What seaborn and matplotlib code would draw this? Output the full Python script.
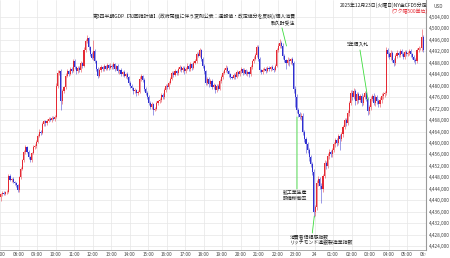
import numpy as np
import pandas as pd
import matplotlib
matplotlib.use("Agg")
import matplotlib.pyplot as plt
import seaborn as sns
from matplotlib.transforms import Bbox, TransformedBbox
from matplotlib.ticker import FuncFormatter

# ---------------- data (prices in thousands) ----------------
hour_labels = ["07:00", "08:00", "09:00", "10:00", "11:00", "12:00", "13:00",
               "14:00", "15:00", "16:00", "17:00", "18:00", "19:00", "20:00",
               "21:00", "22:00", "23:00", "24", "01:00", "02:00", "03:00",
               "04:00", "05:00", "06:00"]

first_open_k = 4441.0

close_k = [
    4442.0, 4442.6, 4442.3, 4442.8, 4443.0, 4448.5, 4447.2, 4447.5, 4446.3, 4446.0, 4445.2, 4443.5,
    4448.0, 4451.0, 4454.0, 4457.0, 4458.5, 4457.0, 4455.0, 4454.0, 4456.5, 4458.5, 4459.0, 4460.5,
    4462.5, 4464.0, 4463.5, 4466.5, 4467.5, 4466.8, 4467.8, 4468.3, 4467.9, 4468.8, 4468.4, 4469.2,
    4480.0, 4484.5, 4485.0, 4474.5, 4478.0, 4479.5, 4483.5, 4485.0, 4484.2, 4486.0, 4485.3, 4488.5,
    4486.5, 4485.0, 4486.2, 4485.5, 4487.8, 4487.0, 4492.5, 4495.5, 4496.5, 4493.5, 4491.0, 4489.8,
    4492.0, 4488.5, 4486.0, 4483.5, 4485.5, 4486.5, 4485.8, 4486.8, 4486.0, 4487.2, 4486.3, 4487.0,
    4486.5, 4487.5, 4486.0, 4486.8, 4485.0, 4485.5, 4484.0, 4484.8, 4483.5, 4484.2, 4483.0, 4481.0,
    4480.0, 4479.2, 4478.0, 4478.5, 4477.3, 4477.8, 4482.5, 4483.3, 4482.0, 4479.0, 4477.5, 4476.0,
    4474.0, 4472.5, 4473.5, 4471.5, 4472.0, 4473.8, 4474.5, 4475.0, 4476.8, 4476.0, 4478.5, 4480.0,
    4479.5, 4481.0, 4482.5, 4484.5, 4483.8, 4485.0, 4484.3, 4485.8, 4486.5, 4485.5, 4486.3, 4485.0,
    4486.0, 4487.0, 4485.8, 4487.5, 4486.3, 4488.0, 4488.8, 4491.0, 4490.5, 4492.3, 4489.5, 4487.0,
    4485.0, 4481.0, 4482.5, 4480.5, 4481.8, 4479.5, 4480.2, 4478.5, 4480.0, 4479.0, 4481.5, 4483.0,
    4484.5, 4485.5, 4486.3, 4485.0, 4484.0, 4483.0, 4482.8, 4483.8, 4483.2, 4484.8, 4484.0, 4485.0,
    4485.8, 4484.5, 4485.5, 4484.2, 4484.8, 4484.0, 4486.5, 4488.5, 4489.5, 4490.8, 4493.5, 4489.5,
    4485.5, 4484.8, 4485.5, 4486.0, 4485.3, 4486.3, 4485.8, 4486.5, 4486.0, 4485.5, 4487.0, 4492.5,
    4494.0, 4495.0, 4494.0, 4490.5, 4489.0, 4488.0, 4489.0, 4488.5, 4489.2, 4488.0, 4479.0, 4476.0,
    4471.5, 4470.0, 4469.0, 4469.5, 4464.0, 4461.5, 4459.5, 4457.5, 4455.0, 4452.5, 4450.0, 4436.0,
    4437.5, 4446.0, 4447.5, 4445.0, 4444.0, 4448.5, 4453.0, 4452.0, 4455.5, 4457.0, 4456.0, 4457.5,
    4459.5, 4461.0, 4460.0, 4462.5, 4461.5, 4463.0, 4465.5, 4468.0, 4467.0, 4470.5, 4474.0, 4477.5,
    4476.0, 4478.0, 4474.5, 4477.0, 4475.0, 4476.5, 4474.0, 4476.0, 4477.5, 4475.5, 4471.0, 4472.5,
    4475.5, 4476.5, 4474.0, 4476.0, 4474.5, 4473.5, 4475.0, 4476.5, 4477.0, 4477.5, 4492.5, 4491.0,
    4490.0, 4491.5, 4489.0, 4488.0, 4490.5, 4491.5, 4490.8, 4492.0, 4491.0, 4490.2, 4491.8, 4491.0,
    4491.5, 4492.0, 4491.0, 4490.0, 4489.0, 4488.5, 4492.5, 4493.0, 4493.0, 4497.0, 4492.5,
]

wick_up_k = [
    0.6, 0.5, 0.7, 0.4, 0.6, 0.5, 0.8, 0.4, 0.6, 0.5, 0.4, 0.6,
    0.4, 0.6, 0.5, 0.7, 0.8, 0.5, 0.6, 0.4, 0.5, 0.7, 0.6, 0.5,
    0.6, 0.8, 0.5, 0.7, 0.6, 0.5, 0.4, 0.6, 0.7, 0.5, 0.6, 0.4,
    0.8, 1.0, 0.6, 0.8, 0.7, 0.5, 0.9, 0.8, 0.6, 0.7, 0.5, 0.9,
    0.7, 0.5, 0.6, 0.8, 0.7, 0.5, 0.9, 0.8, 1.2, 0.6, 0.5, 0.7,
    4.0, 0.8, 0.6, 0.5, 0.7, 0.6, 0.5, 0.8, 0.6, 0.7, 0.5, 0.8,
    0.6, 0.9, 0.5, 0.6, 0.7, 0.5, 0.6, 0.5, 0.7, 0.4, 0.6, 0.5,
    0.5, 0.6, 0.4, 0.7, 0.5, 0.6, 0.9, 0.7, 0.5, 0.6, 0.4, 0.5,
    0.6, 0.5, 0.7, 0.4, 0.6, 0.8, 0.5, 0.6, 0.7, 0.5, 0.8, 0.6,
    0.7, 0.5, 0.6, 0.8, 0.5, 0.7, 0.6, 0.8, 0.9, 0.5, 0.7, 0.6,
    0.6, 0.8, 0.5, 0.7, 0.6, 0.8, 0.6, 0.9, 0.7, 0.8, 0.6, 0.5,
    0.5, 0.6, 0.7, 0.5, 0.6, 0.4, 0.7, 0.5, 0.6, 0.5, 0.7, 0.6,
    0.7, 0.6, 0.8, 0.5, 0.6, 0.5, 0.4, 0.6, 0.5, 0.7, 0.5, 0.6,
    0.7, 0.5, 0.6, 0.5, 0.6, 0.4, 0.7, 0.6, 0.8, 0.7, 0.6, 0.8,
    0.6, 0.5, 0.7, 0.6, 0.5, 0.7, 0.6, 0.5, 0.6, 0.5, 0.7, 0.8,
    0.9, 1.2, 0.7, 0.8, 0.6, 0.5, 0.9, 0.7, 0.6, 0.8, 0.7, 0.9,
    1.0, 0.8, 0.7, 0.9, 0.8, 0.6, 0.7, 0.8, 0.6, 0.9, 0.7, 0.8,
    0.9, 1.0, 0.8, 0.7, 0.9, 0.8, 1.0, 0.7, 0.9, 0.8, 0.6, 0.9,
    0.8, 0.7, 0.9, 0.6, 0.8, 0.7, 0.9, 0.8, 0.7, 0.9, 0.8, 1.0,
    0.9, 1.1, 0.7, 0.8, 0.9, 0.7, 0.8, 0.9, 0.7, 0.8, 0.6, 0.9,
    0.8, 0.7, 0.9, 0.6, 0.8, 0.7, 0.9, 0.8, 0.7, 0.6, 1.0, 0.8,
    0.7, 0.9, 0.6, 0.8, 0.7, 0.9, 0.6, 0.8, 0.7, 0.6, 0.8, 0.7,
    0.6, 0.8, 0.7, 0.5, 0.6, 0.7, 0.8, 0.9, 0.6, 2.8, 0.7,
]

wick_dn_k = [
    1.4, 0.5, 0.6, 0.4, 0.5, 0.6, 0.5, 0.7, 0.4, 0.6, 0.5, 0.7,
    0.5, 0.6, 0.4, 0.5, 0.7, 0.6, 0.5, 0.8, 0.6, 0.4, 0.5, 0.6,
    0.5, 0.4, 0.7, 0.5, 0.6, 0.8, 0.5, 0.6, 0.4, 0.7, 0.5, 0.6,
    0.5, 0.7, 0.6, 3.0, 0.8, 0.6, 0.7, 0.5, 0.8, 0.6, 0.7, 0.5,
    0.6, 0.8, 0.5, 0.7, 0.6, 0.8, 0.5, 0.7, 0.6, 0.9, 0.7, 0.6,
    0.7, 0.6, 0.8, 0.7, 0.5, 0.6, 0.7, 0.5, 0.6, 0.4, 0.7, 0.5,
    0.6, 0.5, 0.7, 0.5, 0.6, 0.8, 0.5, 0.6, 0.5, 0.7, 0.6, 0.8,
    0.7, 0.6, 0.8, 0.5, 0.9, 0.6, 0.5, 0.7, 0.6, 0.8, 0.7, 0.6,
    0.8, 0.7, 0.6, 1.7, 0.5, 0.6, 0.7, 0.5, 0.6, 0.8, 0.5, 0.6,
    0.6, 0.7, 0.5, 0.6, 0.8, 0.5, 0.7, 0.6, 0.5, 0.7, 0.6, 0.8,
    0.5, 0.6, 0.7, 0.5, 0.8, 0.6, 0.5, 0.7, 0.6, 0.5, 0.8, 0.7,
    0.8, 0.7, 0.6, 0.9, 0.5, 0.8, 0.6, 1.2, 0.7, 0.6, 0.5, 0.7,
    0.6, 0.5, 0.7, 0.6, 0.8, 0.7, 0.6, 0.5, 0.7, 0.6, 0.5, 0.7,
    0.6, 0.7, 0.5, 0.6, 0.7, 0.8, 0.5, 0.6, 0.7, 0.5, 0.8, 0.9,
    0.8, 0.7, 0.6, 0.5, 0.7, 0.6, 0.8, 0.5, 0.6, 0.7, 0.5, 0.6,
    0.7, 0.8, 0.9, 1.0, 0.7, 2.0, 0.8, 1.5, 0.9, 0.8, 1.5, 3.5,
    1.2, 1.0, 0.8, 0.9, 1.1, 1.0, 3.0, 0.9, 1.2, 1.0, 1.1, 1.7,
    1.5, 1.0, 0.9, 1.2, 5.0, 1.0, 0.8, 1.1, 0.9, 1.0, 0.8, 0.9,
    0.8, 1.0, 0.9, 0.8, 4.0, 0.9, 1.0, 0.8, 1.2, 0.9, 1.0, 0.8,
    1.0, 0.8, 1.2, 0.9, 1.0, 0.8, 1.1, 0.9, 0.8, 1.0, 1.2, 0.9,
    0.9, 1.0, 0.8, 1.1, 0.9, 1.0, 0.8, 0.9, 1.0, 0.8, 0.9, 1.0,
    0.8, 0.9, 0.7, 1.0, 0.8, 0.7, 0.9, 0.8, 0.7, 0.9, 0.8, 0.7,
    0.7, 0.8, 0.9, 0.7, 0.8, 0.9, 0.7, 0.8, 0.7, 0.9, 0.8,
]

y_ticks_k = list(range(4424, 4505, 4))

# event annotations: text lines, text anchor (bar, price k), line start/tip (bar, price k)
events = [
    dict(lines=["第3四半期GDP【初回推計値】(政府閉鎖に伴う変則公表：速報値・改定値分を反映)/個人消費", "耐久財受注"]),
    dict(lines=["5年債入札"]),
    dict(lines=["鉱工業生産", "設備稼働率"]),
    dict(lines=["消費者信頼感指数", "リッチモンド連銀製造業指数"]),
]

# ---------------- build frame ----------------
n = len(close_k)
close = np.array(close_k) * 1000
opn = np.concatenate([[first_open_k * 1000], close[:-1]])
hi = np.maximum(opn, close) + np.array(wick_up_k) * 1000
lo = np.minimum(opn, close) - np.array(wick_dn_k) * 1000
df = pd.DataFrame(dict(bar=np.arange(n) + 0.5, open=opn, close=close, high=hi, low=lo))
df["up"] = df["close"] >= df["open"]
df["body_lo"] = np.minimum(df["open"], df["close"])
df["body_h"] = np.maximum(np.abs(df["close"] - df["open"]), 150)

# ---------------- style ----------------
sns.set_theme(style="whitegrid")
plt.rcParams["font.family"] = ["Noto Sans CJK JP", "DejaVu Sans"]
plt.rcParams["axes.edgecolor"] = "#9a9a9a"

W, H = 450, 258
fig = plt.figure(figsize=(W / 100, H / 100), dpi=100)
fig.patch.set_facecolor("white")
ax_right_px = 425.5
ax = fig.add_axes([0, 8 / H, ax_right_px / W, 250 / H])
ax.set_facecolor("white")

RED = "#e52a34"
BLUE = "#2f2fd0"
cols = np.where(df["up"], RED, BLUE)

ax.vlines(df["bar"], df["low"], df["high"], colors=cols, lw=0.45, alpha=0.75, zorder=3)
ax.bar(df["bar"], df["body_h"], bottom=df["body_lo"], width=0.72, color=cols,
       linewidth=0, zorder=4)

# scales: 18.5 px per hour, y mapping from tick positions
ax.set_xlim(0, 276)
px_per_k = 229 / 80.0
y_top = 4504 + 17 / px_per_k
y_bot = 4504 - 233 / px_per_k
ax.set_ylim(y_bot * 1000, y_top * 1000)

ax.set_xticks([12 * i for i in range(len(hour_labels))])
ax.set_xticklabels(hour_labels)
ax.set_yticks([v * 1000 for v in y_ticks_k])
ax.yaxis.set_major_formatter(FuncFormatter(lambda v, p: f"{int(round(v)):,}"))
ax.yaxis.tick_right()
ax.tick_params(axis="y", labelsize=3.4, pad=2.4, length=0, colors="#444444")
ax.tick_params(axis="x", labelsize=3.4, pad=1.2, length=0, colors="#444444")
ax.grid(True, color="#e6e6e6", lw=0.5)
for s in ["top", "left"]:
    ax.spines[s].set_visible(False)
ax.spines["right"].set_linewidth(0.8)
ax.spines["bottom"].set_linewidth(0.6)

clip = TransformedBbox(Bbox([[0, 0], [ax_right_px / W, 1]]), fig.transFigure)
for t in ax.xaxis.get_major_ticks():
    t.label1.set_clip_box(clip)
    t.label1.set_clip_on(True)

def px2bar(px):
    return px / (ax_right_px / 276)

def py2k(py):
    return 4504 - (py - 17) / px_per_k

FS = 3.5
GREEN = "#3ddc3d"
# text placements (pixel layout)
ax.text(px2bar(296), py2k(16) * 1000, events[0]["lines"][0], fontsize=FS, ha="right", va="center", color="#222222", zorder=6)
ax.text(px2bar(295), py2k(23.5) * 1000, events[0]["lines"][1], fontsize=FS, ha="right", va="center", color="#222222", zorder=6)
ax.text(px2bar(358), py2k(45) * 1000, events[1]["lines"][0], fontsize=FS, ha="center", va="center", color="#222222", zorder=6)
ax.text(px2bar(283), py2k(192) * 1000, events[2]["lines"][0], fontsize=FS, ha="left", va="center", color="#222222", zorder=6)
ax.text(px2bar(283), py2k(198) * 1000, events[2]["lines"][1], fontsize=FS, ha="left", va="center", color="#222222", zorder=6)
ax.text(px2bar(290), py2k(236.5) * 1000, events[3]["lines"][0], fontsize=FS, ha="left", va="center", color="#222222", zorder=6)
ax.text(px2bar(290), py2k(242.5) * 1000, events[3]["lines"][1], fontsize=FS, ha="left", va="center", color="#222222", zorder=6)

links = [((282, 28), (286.5, 46)), ((360, 50), (368, 100)), ((297, 189), (297, 117)), ((312.3, 233), (314.3, 216))]
for (sx, sy), (tx, ty) in links:
    ax.annotate("", xy=(px2bar(tx), py2k(ty) * 1000), xytext=(px2bar(sx), py2k(sy) * 1000),
                arrowprops=dict(arrowstyle="-", color=GREEN, lw=0.6, shrinkA=0, shrinkB=0), zorder=5)

fig.text(427 / W, 1 - 5 / H, "2025年12月23日(火曜日)NY金CFD5分足", fontsize=FS, ha="right", va="center", color="#222222")
fig.text(427 / W, 1 - 11.5 / H, "(ワク幅500単位)", fontsize=FS, ha="right", va="center", color="#e52a34")
fig.text(433 / W, 1 - 6 / H, "USD", fontsize=3.4, ha="left", va="center", color="#444444")

fig.savefig("out.png", dpi=100, facecolor="white")
